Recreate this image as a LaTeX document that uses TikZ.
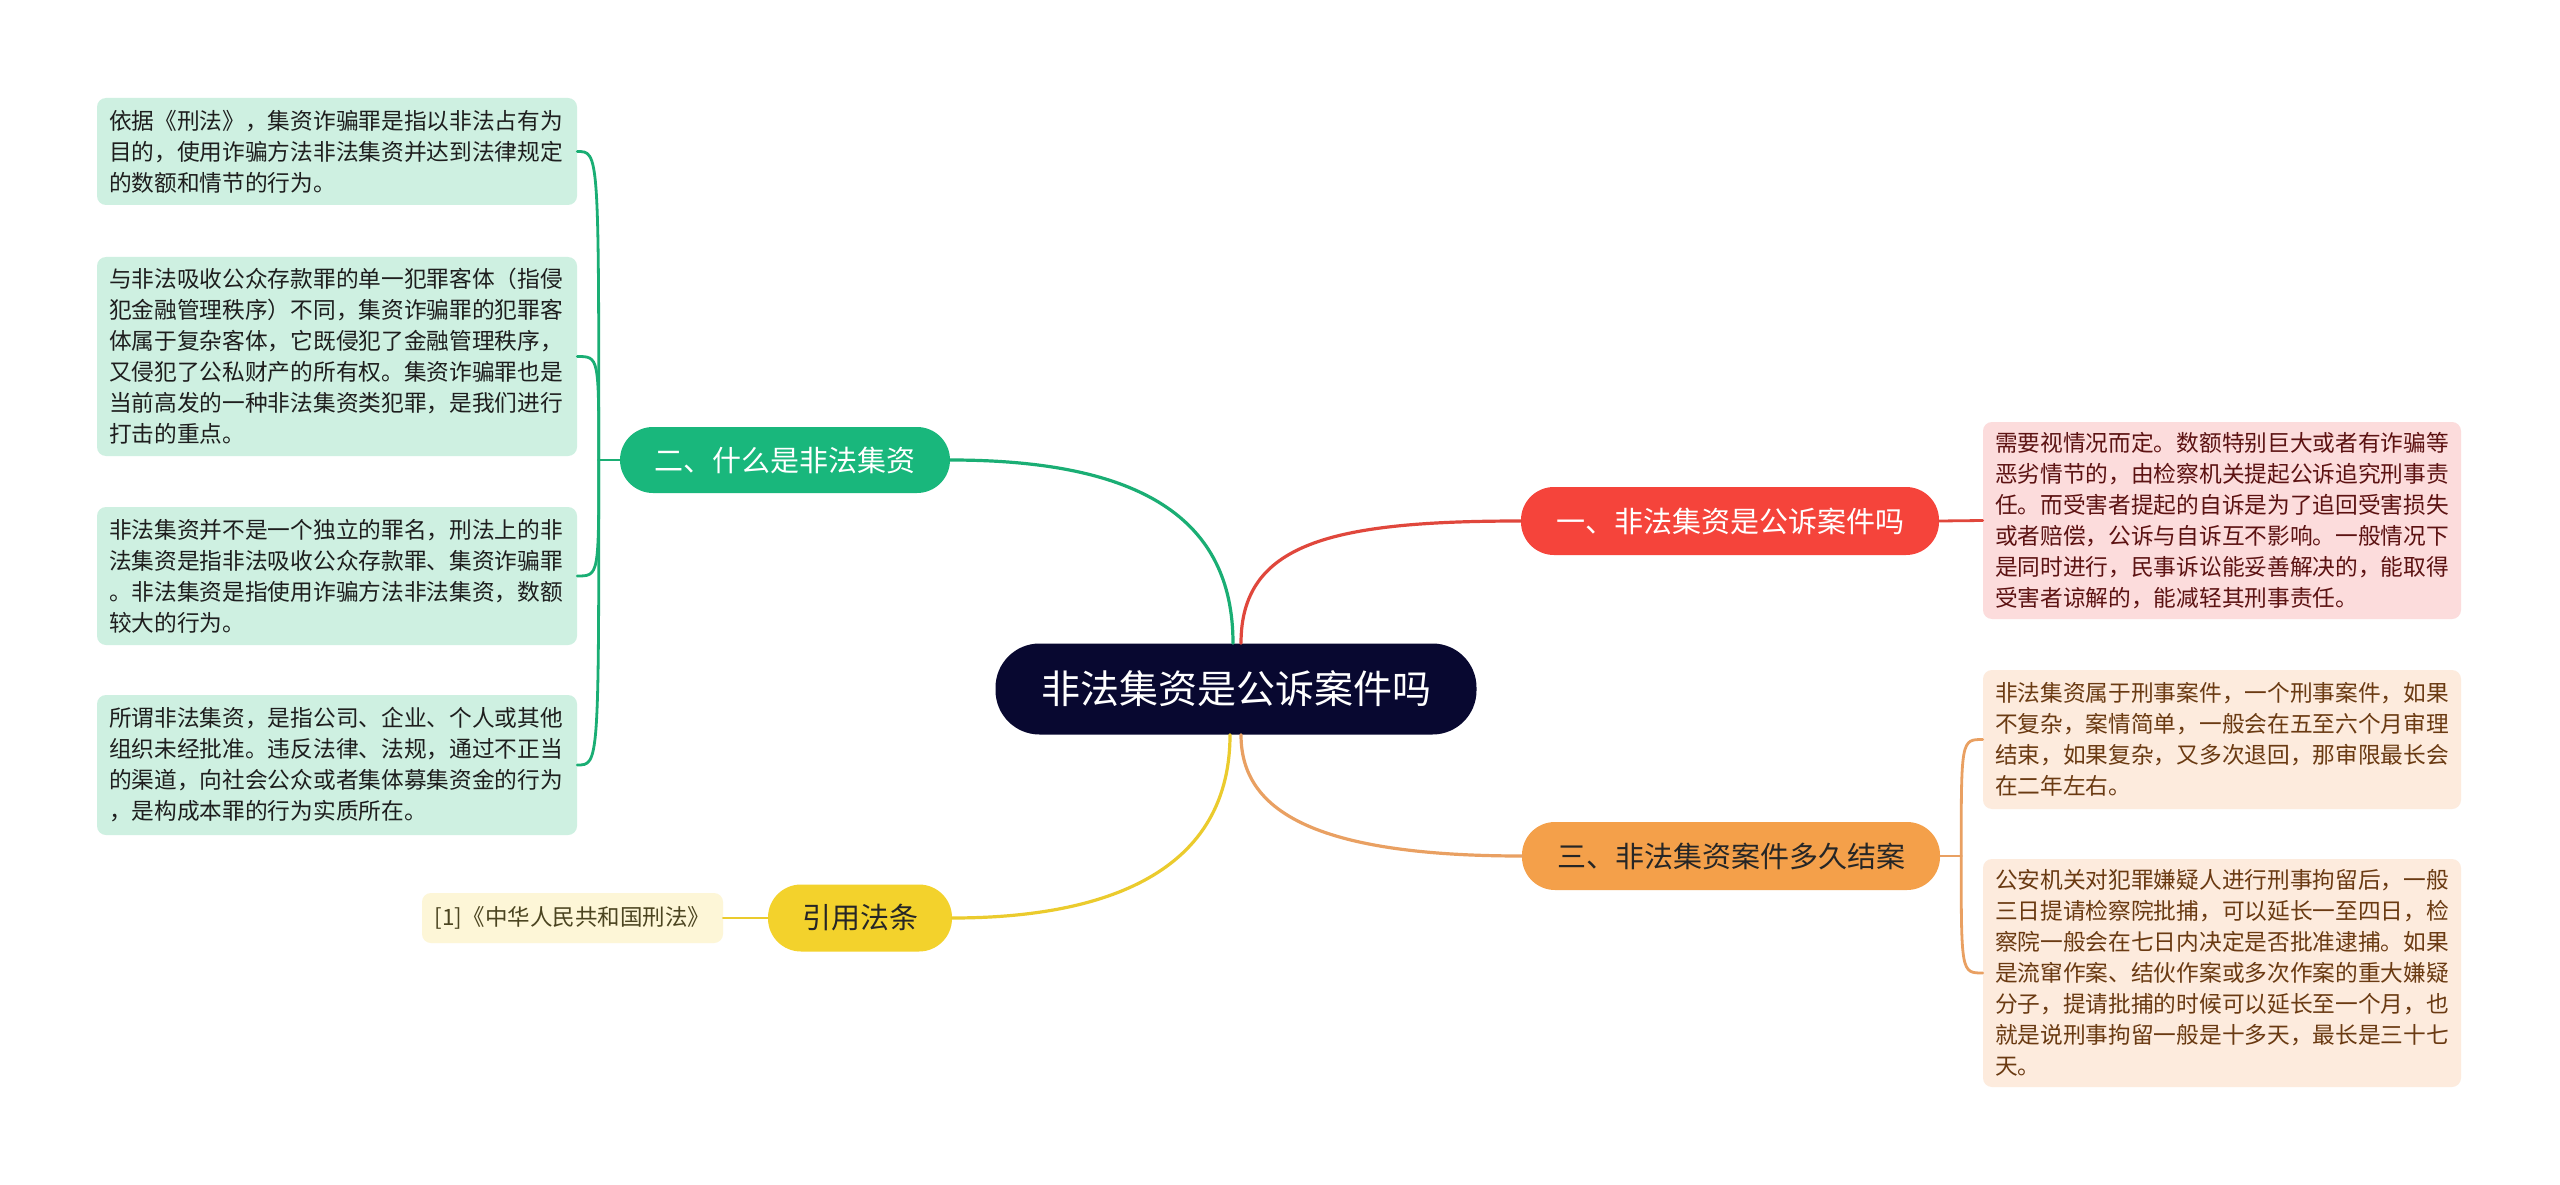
\documentclass[tikz,border=0pt]{standalone}
\usepackage{fontspec}
\setmainfont{Noto Sans CJK SC}
\usetikzlibrary{calc}
\definecolor{navy}{HTML}{080830}
\definecolor{redn}{HTML}{F5443B}
\definecolor{redl}{HTML}{E0473C}
\definecolor{redleaf}{HTML}{FCDCDC}
\definecolor{redtxt}{HTML}{5C1212}
\definecolor{greenn}{HTML}{19B77C}
\definecolor{greenl}{HTML}{1AAE74}
\definecolor{greenleaf}{HTML}{CEF0E1}
\definecolor{greentxt}{HTML}{1E1E1E}
\definecolor{orangen}{HTML}{F4A04A}
\definecolor{orangel}{HTML}{E9A062}
\definecolor{orangeleaf}{HTML}{FDEBDD}
\definecolor{orangetxt}{HTML}{6A3A12}
\definecolor{yellown}{HTML}{F3D22C}
\definecolor{yellowl}{HTML}{EBCB2D}
\definecolor{yellowleaf}{HTML}{FDF6D7}
\definecolor{yellowtxt}{HTML}{4B4420}
\begin{document}
\begin{tikzpicture}[x=1pt,y=-1pt,
  leafbox/.style={rounded corners=9pt, inner xsep=12pt, inner ysep=3pt,
    text width=456pt, align=left, anchor=center,
    font=\fontsize{22.7pt}{31pt}\selectfont},
  branch/.style={rounded corners=33pt, inner xsep=0pt, inner ysep=0pt,
    minimum height=68pt, anchor=center,
    font=\fontsize{29pt}{34pt}\selectfont},
  conn/.style={line width=3.2pt, line cap=round},
  sconn/.style={line width=2.8pt, line cap=round}
]
\useasboundingbox (0,0) rectangle (2560,1185);
\fill[white] (0,0) rectangle (2560,1185);

% central node
\node[fill=navy, text=white, rounded corners=44pt, minimum width=481pt, minimum height=91pt,
  inner sep=0pt, font=\fontsize{39pt}{44pt}\selectfont] (c) at (1236,689) {非法集资是公诉案件吗};

% branches
\node[branch, fill=redn, text=white, minimum width=418pt] (r) at (1730,521) {一、非法集资是公诉案件吗};
\node[branch, fill=orangen, text=black!85, minimum width=418pt] (o) at (1731,856) {三、非法集资案件多久结案};
\node[branch, fill=greenn, text=white, minimum width=330pt, minimum height=66pt] (g) at (785,460) {二、什么是非法集资};
\node[branch, fill=yellown, text=black!85, minimum width=184pt, minimum height=67pt] (y) at (860,918) {引用法条};

% green leaves
\node[leafbox, fill=greenleaf, text=greentxt, minimum height=107pt] (g1) at (337,151.5)
 {依据《刑法》，集资诈骗罪是指以非法占有为\\目的，使用诈骗方法非法集资并达到法律规定\\的数额和情节的行为。};
\node[leafbox, fill=greenleaf, text=greentxt, minimum height=199pt] (g2) at (337,356.5)
 {与非法吸收公众存款罪的单一犯罪客体（指侵\\犯金融管理秩序）不同，集资诈骗罪的犯罪客\\体属于复杂客体，它既侵犯了金融管理秩序，\\又侵犯了公私财产的所有权。集资诈骗罪也是\\当前高发的一种非法集资类犯罪，是我们进行\\打击的重点。};
\node[leafbox, fill=greenleaf, text=greentxt, minimum height=138pt] (g3) at (337,576)
 {非法集资并不是一个独立的罪名，刑法上的非\\法集资是指非法吸收公众存款罪、集资诈骗罪\\。非法集资是指使用诈骗方法非法集资，数额\\较大的行为。};
\node[leafbox, fill=greenleaf, text=greentxt, minimum height=140pt] (g4) at (337,765)
 {所谓非法集资，是指公司、企业、个人或其他\\组织未经批准。违反法律、法规，通过不正当\\的渠道，向社会公众或者集体募集资金的行为\\，是构成本罪的行为实质所在。};

% red leaf
\node[leafbox, fill=redleaf, text=redtxt, text width=454pt, minimum height=197pt] (r1) at (2222,520.5)
 {需要视情况而定。数额特别巨大或者有诈骗等\\恶劣情节的，由检察机关提起公诉追究刑事责\\任。而受害者提起的自诉是为了追回受害损失\\或者赔偿，公诉与自诉互不影响。一般情况下\\是同时进行，民事诉讼能妥善解决的，能取得\\受害者谅解的，能减轻其刑事责任。};

% orange leaves
\node[leafbox, fill=orangeleaf, text=orangetxt, text width=454pt, minimum height=139pt] (o1) at (2222,739.5)
 {非法集资属于刑事案件，一个刑事案件，如果\\不复杂，案情简单，一般会在五至六个月审理\\结束，如果复杂，又多次退回，那审限最长会\\在二年左右。};
\node[leafbox, fill=orangeleaf, text=orangetxt, text width=454pt, minimum height=228pt] (o2) at (2222,973)
 {公安机关对犯罪嫌疑人进行刑事拘留后，一般\\三日提请检察院批捕，可以延长一至四日，检\\察院一般会在七日内决定是否批准逮捕。如果\\是流窜作案、结伙作案或多次作案的重大嫌疑\\分子，提请批捕的时候可以延长至一个月，也\\就是说刑事拘留一般是十多天，最长是三十七\\天。};

% reference leaf
\node[fill=yellowleaf, text=yellowtxt, rounded corners=9pt, minimum width=301pt, minimum height=50pt,
  inner sep=0pt, font=\fontsize{22.5pt}{26pt}\selectfont] (y1) at (572.5,918) {[1]《中华人民共和国刑法》};

% connectors from center
\coordinate (cn1) at ([xshift=5pt]c.north);
\coordinate (cn2) at ([xshift=-3pt]c.north);
\coordinate (cs1) at ([xshift=5pt]c.south);
\coordinate (cs2) at ([xshift=-6pt]c.south);
\draw[conn, draw=redl] (cn1) .. controls +(0,-100) and +(-190,0) .. (r.west);
\draw[conn, draw=greenl] (cn2) .. controls +(0,-125) and +(190,0) .. (g.east);
\draw[conn, draw=orangel] (cs1) .. controls +(0,70) and +(-220,0) .. (o.west);
\draw[conn, draw=yellowl] (cs2) .. controls +(0,145) and +(140,0) .. (y.east);

% red leaf link
\draw[sconn, draw=redl] (r.east) -- (r1.west);
% yellow leaf link
\draw[sconn, draw=yellowl] (y.west) -- (y1.east);

% green bracket
\coordinate (gj) at ([xshift=-21pt]g.west);
\draw[sconn, draw=greenl] (g.west) -- (gj);
\foreach \l in {g1,g2,g3,g4}
  \draw[sconn, draw=greenl] (gj) .. controls (gj |- \l.east) and (gj |- \l.east) .. (\l.east);

% orange bracket
\coordinate (oj) at ([xshift=21pt]o.east);
\draw[sconn, draw=orangel] (o.east) -- (oj);
\foreach \l in {o1,o2}
  \draw[sconn, draw=orangel] (oj) .. controls (oj |- \l.west) and (oj |- \l.west) .. (\l.west);
\end{tikzpicture}
\end{document}
